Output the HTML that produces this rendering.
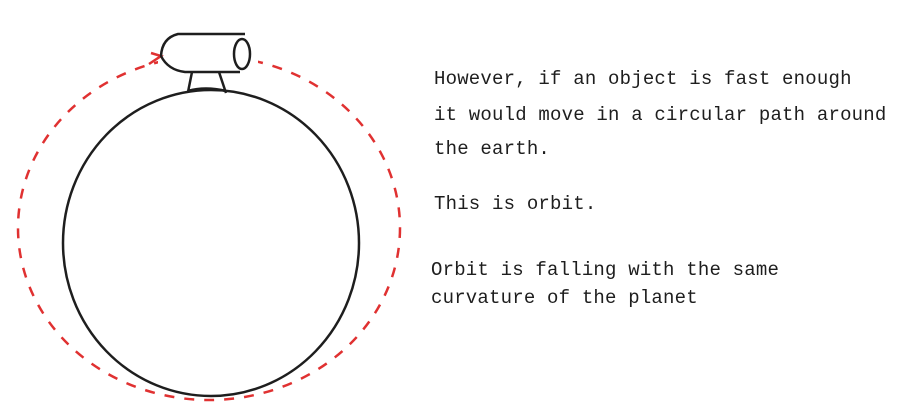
<!DOCTYPE html>
<html><head><style>
body{margin:0;background:#fff;width:904px;height:418px;overflow:hidden}
svg{position:absolute;left:0;top:0}
.t{position:absolute;font-family:"Liberation Mono",monospace;font-size:19px;color:#1e1e1e;white-space:nowrap;line-height:18px;letter-spacing:0.2px}
</style></head><body>
<svg width="904" height="418">
<ellipse cx="209" cy="228" rx="191" ry="172" fill="none" stroke="#e03131" stroke-width="2.5" stroke-dasharray="10 10"/>
<rect x="158" y="30" width="100" height="70" fill="#fff"/>
<path d="M149 64 L161 56 L151 53" fill="none" stroke="#e03131" stroke-width="2.5"/>
<ellipse cx="211" cy="243" rx="148" ry="153" fill="none" stroke="#1e1e1e" stroke-width="2.5"/>
<path d="M245 34 L178 34 Q162 38 161 56 Q168 70 185 72 L240 72" fill="none" stroke="#1e1e1e" stroke-width="2.5"/>
<ellipse cx="242" cy="54" rx="8" ry="15" fill="#fff" stroke="#1e1e1e" stroke-width="2.5"/>
<path d="M192 72 L188 92 M219 72 L226 93 M188 91 Q205 86 226 91" fill="none" stroke="#1e1e1e" stroke-width="2.5"/>
</svg>
<div class="t" style="left:434px;top:70px">However, if an object is fast enough</div>
<div class="t" style="left:434px;top:106px">it would move in a circular path around</div>
<div class="t" style="left:434px;top:140px">the earth.</div>
<div class="t" style="left:434px;top:195px">This is orbit.</div>
<div class="t" style="left:431px;top:261px">Orbit is falling with the same</div>
<div class="t" style="left:431px;top:289px">curvature of the planet</div>
</body></html>
